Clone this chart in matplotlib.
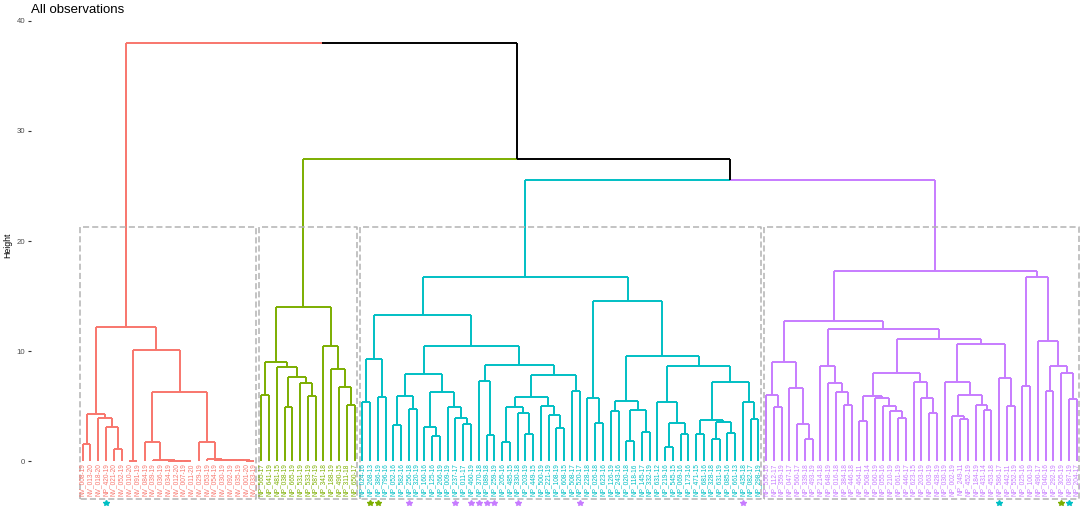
import matplotlib.pyplot as plt

plt.rcParams['font.family'] = ['Liberation Sans', 'DejaVu Sans']

# leaf labels per cluster, in dendrogram order
red_labels = ["NV_008-19", "NV_013-20", "NV_018-20", "NP_420-19", "NV_021-20", "NV_052-19",
              "NV_010-20", "NV_091-19", "NV_084-19", "NV_039-19", "NV_036-19", "NV_034-19",
              "NV_012-20", "NV_007-19", "NV_011-20", "NV_029-19", "NV_053-19", "NV_054-19",
              "NV_030-19", "NV_092-19", "NV_035-19", "NV_001-20", "NV_033-19"]
green_labels = ["NP_565-17", "NP_641-19", "NP_481-15", "NP_038-19", "NP_665-19", "NP_531-19",
                "NP_533-19", "NP_587-19", "NP_341-18", "NP_188-19", "NP_490-15", "NP_311-18",
                "NP_650-17"]
cyan_labels = ["NP_024-16", "NP_268-13", "NP_386-19", "NP_796-16", "NP_052-16", "NP_582-16",
               "NP_256-18", "NP_320-19", "NP_160-16", "NP_125-16", "NP_266-19", "NP_009-19",
               "NP_237-17", "NP_011-17", "NP_460-19", "NP_370-18", "NP_089-18", "NP_259-19",
               "NP_205-16", "NP_485-15", "NP_330-18", "NP_203-19", "NP_449-15", "NP_500-19",
               "NP_221-19", "NP_108-19", "NP_608-15", "NP_508-17", "NP_520-17", "NP_228-18",
               "NP_026-18", "NP_623-16", "NP_126-19", "NP_243-16", "NP_020-18", "NP_118-16",
               "NP_145-17", "NP_332-19", "NP_631-12", "NP_219-16", "NP_545-15", "NP_069-16",
               "NP_173-16", "NP_471-15", "NP_681-16", "NP_328-18", "NP_631-19", "NP_085-16",
               "NP_661-13", "NP_435-18", "NP_082-17", "NP_298-19"]
purple_labels = ["NP_556-16", "NP_112-17", "NP_359-19", "NP_047-17", "NP_560-17", "NP_339-18",
                 "NP_493-19", "NP_214-18", "NP_648-19", "NP_016-18", "NP_384-18", "NP_446-18",
                 "NP_464-11", "NP_508-14", "NP_060-19", "NP_055-16", "NP_210-19", "NP_061-19",
                 "NP_446-17", "NP_623-15", "NP_203-19", "NP_063-19", "NP_428-19", "NP_030-19",
                 "NP_002-19", "NP_249-11", "NP_452-19", "NP_184-19", "NP_431-14", "NP_453-18",
                 "NP_586-17", "NP_442-11", "NP_552-19", "NP_025-16", "NP_100-19", "NP_490-17",
                 "NP_040-16", "NP_292-19", "NP_305-19", "NP_087-19", "NP_204-17"]

colors = {"red": "#F8766D", "green": "#7CAE00", "cyan": "#00BFC4", "purple": "#C77CFF"}

# merge tree: (left, right, height); ints are leaf positions
red_tree = (((0, 1, 1.55), (2, (3, (4, 5, 1.12), 3.12), 3.88), 4.27),
            ((6, 7, 0.04),
             ((8, (9, (10, (11, (12, (13, 14, 0.02), 0.03), 0.04), 0.05), 0.06), 1.73),
              (15, (16, (17, (18, (19, (20, (21, 22, 0.03), 0.05), 0.07), 0.09), 0.13), 0.16), 1.73),
              6.3),
             10.1),
            12.15)

green_tree = (((23, 24, 6.0), (25, ((26, 27, 4.88), (28, (29, 30, 5.9), 7.06), 7.67), 8.58), 9.03),
              (31, (32, (33, (34, 35, 5.09), 6.76), 8.36), 10.48),
              13.97)

cyan_a1 = ((36, 37, 5.33), (38, 39, 5.85), 9.27)
cyan_a2a = (((40, 41, 3.3), (42, 43, 4.7), 5.94),
            ((44, (45, 46, 2.3), 3.06), (47, (48, (49, 50, 3.36), 3.88), 4.94), 6.24), 7.9)
cyan_x = ((((54, 55, 1.73), (56, (57, 58, 2.5), 4.4), 4.88),
           (59, (60, (61, 62, 2.97), 4.18), 5.03), 5.85), (63, 64, 6.36), 7.82)
cyan_a2b = ((51, (52, 53, 2.36), 7.3), cyan_x, 8.76)
cyan_b3 = ((74, ((75, 76, 1.3), (77, 78, 2.45), 3.48), 5.36),
           (((79, 80, 2.42), ((81, 82, 2.0), (83, 84, 2.58), 3.52), 3.73),
            (85, (86, 87, 3.82), 5.39), 7.21), 8.64)
cyan_b2 = (((68, 69, 4.55), ((70, 71, 1.82), (72, 73, 2.67), 4.64), 5.42), cyan_b3, 9.58)
cyan_tree = ((cyan_a1, (cyan_a2a, cyan_a2b, 10.45), 13.27),
             ((65, (66, 67, 3.42), 5.76), cyan_b2, 14.57),
             16.7)

purple_p1 = ((88, (89, 90, 4.94), 6.0), (91, (92, (93, 94, 2.03), 3.39), 6.67), 8.97)
purple_p2 = (95, (96, (97, (98, 99, 5.06), 6.27), 7.12), 8.64)
purple_p3 = (((100, 101, 3.6), (102, (103, (104, (105, 106, 3.88), 4.55), 5.0), 5.73), 5.91),
             (107, (108, (109, 110, 4.33), 5.76), 7.21), 7.97)
purple_p4 = ((111, ((112, (113, 114, 3.82), 4.12), (115, (116, 117, 4.61), 5.09), 6.0), 7.15),
             (118, (119, 120, 5.0), 7.58), 10.6)
purple_right = ((121, 122, 6.82),
                (123, ((124, 125, 6.36), (126, (127, 128, 5.67), 8.03), 8.64), 10.94), 16.76)
purple_tree = ((purple_p1, (purple_p2, (purple_p3, purple_p4, 11.09), 12.0), 12.73),
               purple_right, 17.27)

root = (red_tree, (green_tree, (cyan_tree, purple_tree, 25.55), 27.45), 38.0)

rect_top = 21.3

# highlighted observations (star under leaf) and their colour
star_leaves = [3, 37, 38, 42, 48, 50, 51, 52, 53, 56, 64, 85, 118, 126, 127]
star_groups = ["cyan", "green", "green", "purple", "purple", "purple", "purple", "purple",
               "purple", "purple", "purple", "purple", "cyan", "green", "cyan"]

groups = [("red", red_labels), ("green", green_labels), ("cyan", cyan_labels), ("purple", purple_labels)]
labels, leaf_group = [], []
for g, labs in groups:
    labels += labs
    leaf_group += [g] * len(labs)

segs = []  # (x0, y0, x1, y1, color)


def walk(node):
    # returns x position, height, set of groups
    if isinstance(node, int):
        return node, 0.0, {leaf_group[node]}
    left, right, h = node
    xl, hl, gl = walk(left)
    xr, hr, gr = walk(right)
    x = (xl + xr) / 2
    for cx, ch, cg in [(xl, hl, gl), (xr, hr, gr)]:
        col = colors[list(cg)[0]] if len(cg) == 1 else "black"
        segs.append((x, h, cx, h, col))
        segs.append((cx, h, cx, ch, col))
    return x, h, gl | gr


walk(root)

fig = plt.figure(figsize=(10.84, 5.07), dpi=100)
ax = fig.add_axes([31 / 1084, 0, 1 - 31 / 1084, 1])

for x0, y0, x1, y1, col in segs:
    ax.plot([x0, x1], [y0, y1], color=col, lw=1.4, solid_capstyle='butt')

for i, lab in enumerate(labels):
    ax.text(i, -0.2, lab, rotation=90, rotation_mode='anchor', ha='right', va='center',
            fontsize=4.7, color=colors[leaf_group[i]])

# dashed rectangles round the four clusters
start = 0
for g, labs in groups:
    end = start + len(labs) - 1
    x0, x1 = start - 0.3, end + 0.3
    ax.plot([x0, x0, x1, x1, x0], [-3.48, rect_top, rect_top, -3.48, -3.48],
            color="#B3B3B3", lw=1.1, linestyle=(0, (4, 2)))
    start = end + 1

for i, g in zip(star_leaves, star_groups):
    ax.plot(i, -3.8, marker='*', ms=4, color=colors[g], mec=colors[g], lw=0)

ax.set_xlim((31 - 82.7) / 7.766, (1084 - 82.7) / 7.766)
ax.set_ylim((461 - 507) / 11, 461 / 11)
ax.set_yticks([0, 10, 20, 30, 40])
ax.tick_params(axis='y', length=2.5, width=0.8, color="#333333", labelsize=5.6,
               labelcolor="#4D4D4D", pad=1.5)
ax.set_xticks([])
for s in ax.spines.values():
    s.set_visible(False)

fig.text(8 / 1084, 1 - 245 / 507, "Height", rotation=90, ha='center', va='center', fontsize=6.3)
fig.text(31 / 1084, 1 - 13 / 507, "All observations", ha='left', va='baseline', fontsize=9.5)

fig.savefig("out.png", dpi=100)
